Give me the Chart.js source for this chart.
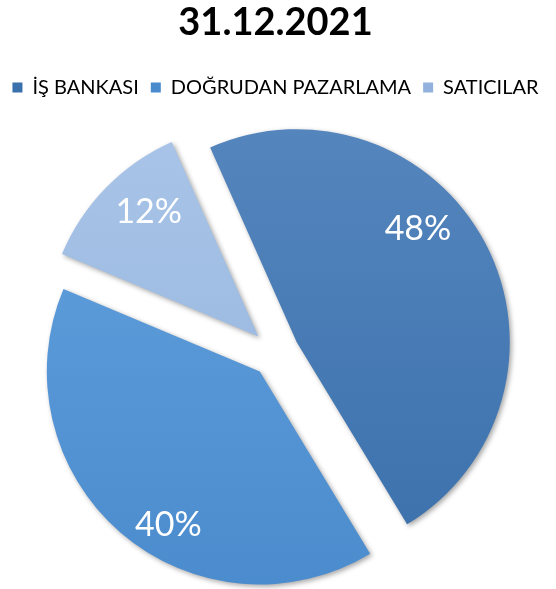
<!DOCTYPE html>
<html>
<head>
<meta charset="utf-8">
<script src="https://cdn.jsdelivr.net/npm/chart.js@4/dist/chart.umd.min.js"></script>
<style>
  html, body { margin: 0; padding: 0; background: #fff; }
  #wrap { width: 556px; height: 589px; }
</style>
</head>
<body>
<div id="wrap"><canvas id="myChart"></canvas></div>
<script>
// data
const title = "31.12.2021";
const categories = ["İŞ BANKASI", "DOĞRUDAN PAZARLAMA", "SATICILAR"];
const shares = [48, 40, 12];
const pctLabels = ["48%", "40%", "12%"];

// gradient stops per slice (top, bottom)
const sliceTop = ['#5686be', '#63a1de', '#aac5e8'];
const sliceBottom = ['#3a70ab', '#4a8bcd', '#92b2dd'];
const explode = 24; // px each slice is pulled out

function gradFill(context) {
    const chart = context.chart;
    const area = chart.chartArea;
    const i = context.dataIndex;
    if (!area || i === undefined) return sliceTop[i || 0];
    const g = chart.ctx.createLinearGradient(0, area.top, 0, area.bottom);
    g.addColorStop(0, sliceTop[i]);
    g.addColorStop(1, sliceBottom[i]);
    return g;
}

// exploded slices with a soft shadow, then the percentage labels
const pieExtras = {
    id: 'pieExtras',
    afterInit(chart) {
        // a bit more room under the legend
        const legend = chart.legend;
        const fit = legend.fit;
        legend.fit = function() {
            fit.call(this);
            this.height += 10;
        };
    },
    beforeDatasetDraw(chart, args) {
        const ctx = chart.ctx;
        args.meta.data.forEach(function(arc) {
            const half = (arc.startAngle + arc.endAngle) / 2;
            ctx.save();
            ctx.translate(Math.cos(half) * explode, Math.sin(half) * explode);
            ctx.shadowColor = 'rgba(0,0,0,0.35)';
            ctx.shadowBlur = 5;
            ctx.shadowOffsetX = 2;
            ctx.shadowOffsetY = 2;
            arc.draw(ctx);
            ctx.restore();
        });
        return false;
    },
    afterDatasetsDraw(chart) {
        const ctx = chart.ctx;
        const meta = chart.getDatasetMeta(0);
        const place = [[0.41, 0.78], [0.43, 0.84], [0.6, 0.78]];
        ctx.save();
        ctx.fillStyle = '#ffffff';
        ctx.font = '34px Lato';
        ctx.textAlign = 'center';
        ctx.textBaseline = 'middle';
        meta.data.forEach(function(arc, i) {
            const p = arc.getProps(['x', 'y', 'startAngle', 'endAngle', 'outerRadius'], true);
            const half = (p.startAngle + p.endAngle) / 2;
            const a = p.startAngle + place[i][0] * (p.endAngle - p.startAngle);
            const r = place[i][1] * p.outerRadius;
            const x = p.x + Math.cos(half) * explode + Math.cos(a) * r;
            const y = p.y + Math.sin(half) * explode + Math.sin(a) * r;
            ctx.fillText(pctLabels[i], x, y);
        });
        ctx.restore();
    }
};

var ctx = document.getElementById('myChart').getContext('2d');
var chart = new Chart(ctx, {
    type: 'pie',
    data: {
        labels: categories,
        datasets: [{
            data: shares,
            backgroundColor: gradFill,
            borderWidth: 0
        }]
    },
    options: {
        responsive: true,
        maintainAspectRatio: false,
        animation: false,
        rotation: -24,
        radius: 213,
        layout: { padding: { top: 0, bottom: 0, left: 0, right: 5 } },
        plugins: {
            title: {
                display: true,
                text: title,
                color: '#000',
                font: { family: 'Lato', size: 38, weight: 'bold' },
                padding: { top: 0, bottom: 20 }
            },
            legend: {
                position: 'top',
                labels: {
                    color: '#262626',
                    font: { family: 'Lato', size: 20 },
                    boxWidth: 10,
                    boxHeight: 10,
                    padding: 12,
                    generateLabels: function(chart) {
                        return categories.map(function(c, i) {
                            return { text: c, fillStyle: sliceBottom[i], strokeStyle: sliceBottom[i], lineWidth: 0, index: i };
                        });
                    }
                }
            },
            tooltip: { enabled: false }
        }
    },
    plugins: [pieExtras]
});
</script>
</body>
</html>
